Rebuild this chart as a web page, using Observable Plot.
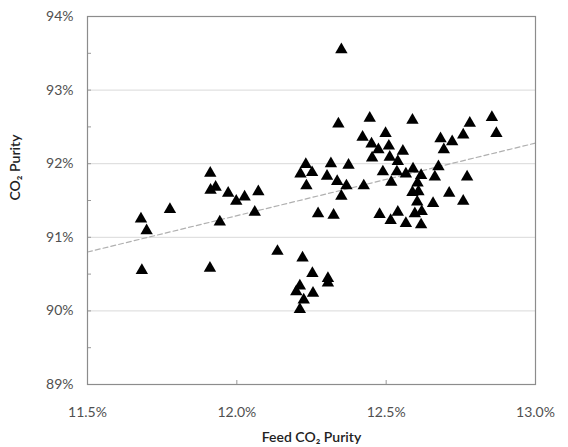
<!DOCTYPE html>
<html>
<head>
<meta charset="utf-8">
<script src="https://cdn.jsdelivr.net/npm/d3@7"></script>
<script src="https://cdn.jsdelivr.net/npm/@observablehq/plot@0.6"></script>
<style>
  html, body { margin: 0; padding: 0; background: #fff; }
  #chart { width: 568px; height: 447px; }
</style>
</head>
<body>
<div id="chart"></div>
<script>
// Feed CO2 purity (%) of each sample
const feedPurity = [
  11.679, 11.698, 11.682, 11.776, 11.911, 11.912, 11.929, 11.971, 11.998, 12.026, 12.072, 11.943,
  12.060, 11.910, 12.136, 12.220, 12.253, 12.305, 12.305, 12.211, 12.199, 12.255, 12.224, 12.211,
  12.231, 12.213, 12.252, 12.233, 12.272, 12.324, 12.315, 12.302, 12.336, 12.367, 12.350, 12.374,
  12.340, 12.350,
  12.445, 12.421, 12.498, 12.451, 12.474, 12.509, 12.556, 12.453, 12.512, 12.539, 12.536, 12.489,
  12.425, 12.517, 12.478, 12.539, 12.515, 12.566,
  12.588, 12.780, 12.854, 12.869, 12.758, 12.721, 12.682, 12.693, 12.590, 12.675, 12.663, 12.566,
  12.617, 12.605, 12.588, 12.608, 12.771, 12.711, 12.758, 12.657, 12.604, 12.619, 12.596, 12.617
];
// Product CO2 purity (%) of each sample
const co2Purity = [
  91.25, 91.09, 90.55, 91.38, 91.87, 91.64, 91.68, 91.60, 91.49, 91.55, 91.62, 91.21,
  91.34, 90.58, 90.81, 90.72, 90.51, 90.44, 90.38, 90.34, 90.26, 90.24, 90.15, 90.02,
  91.99, 91.86, 91.88, 91.70, 91.32, 91.30, 92.00, 91.83, 91.76, 91.70, 91.56, 91.98,
  92.54, 93.55,
  92.62, 92.36, 92.41, 92.27, 92.19, 92.24, 92.17, 92.08, 92.09, 92.03, 91.89, 91.89,
  91.70, 91.75, 91.31, 91.34, 91.23, 91.19,
  92.59, 92.55, 92.63, 92.41, 92.39, 92.30, 92.34, 92.19, 91.93, 91.96, 91.82, 91.86,
  91.84, 91.74, 91.61, 91.62, 91.82, 91.60, 91.49, 91.46, 91.48, 91.35, 91.32, 91.17
];
// Linear trendline end points
const trendX = [11.5, 13.0];
const trendY = [90.80, 92.28];

// Axis ticks
const xTicks = [11.5, 12.0, 12.5, 13.0];
const xInnerTicks = [12.0, 12.5];
const yTicks = [89, 90, 91, 92, 93, 94];
const yMinorTicks = [89.5, 90, 90.5, 91, 91.5, 92, 92.5, 93, 93.5];
const gridY = [90, 91, 92, 93];

const xTitle = "Feed CO\u2082 Purity";
const yTitle = "CO\u2082 Purity";

const points = feedPurity.map((x, i) => ({x, y: co2Purity[i]}));
const trend = trendX.map((x, i) => ({x, y: trendY[i]}));

const chart = Plot.plot({
  width: 568,
  height: 447,
  marginLeft: 87,
  marginRight: 33,
  marginTop: 16,
  marginBottom: 63,
  style: {fontFamily: "Lato, 'Open Sans', sans-serif", background: "#fff"},
  x: {domain: [11.5, 13.0]},
  y: {domain: [89, 94]},
  marks: [
    Plot.ruleY(gridY, {stroke: "#d9d9d9", strokeWidth: 1}),
    Plot.axisY({ticks: yTicks, tickSize: 0, tickPadding: 14, tickFormat: d => d + "%",
      fontSize: 14, fill: "#505050", label: null}),
    Plot.axisY({ticks: yMinorTicks, tickSize: 4, dx: 4, tickFormat: () => "", stroke: "#999", label: null}),
    Plot.axisX({ticks: xTicks, tickSize: 0, tickPadding: 23, tickFormat: d => d.toFixed(1) + "%",
      fontSize: 14, fill: "#505050", label: null}),
    Plot.axisX({ticks: xInnerTicks, tickSize: 4, dy: -4, tickFormat: () => "", stroke: "#999", label: null}),
    Plot.line(trend, {x: "x", y: "y", stroke: "#b0b0b0", strokeWidth: 1.2, strokeDasharray: "5,3"}),
    Plot.dot(points, {x: "x", y: "y", symbol: "triangle", r: 4.6, fill: "#000", stroke: "none"}),
    Plot.frame({stroke: "#8c8c8c", strokeWidth: 1.2}),
    Plot.text([xTitle], {frameAnchor: "bottom", dy: 57, fontSize: 14, fontWeight: 600, fill: "#222"}),
    Plot.text([yTitle], {frameAnchor: "left", dx: -72, rotate: -90, fontSize: 14, fontWeight: 600, fill: "#222"})
  ]
});
document.getElementById("chart").appendChild(chart);
</script>
</body>
</html>
